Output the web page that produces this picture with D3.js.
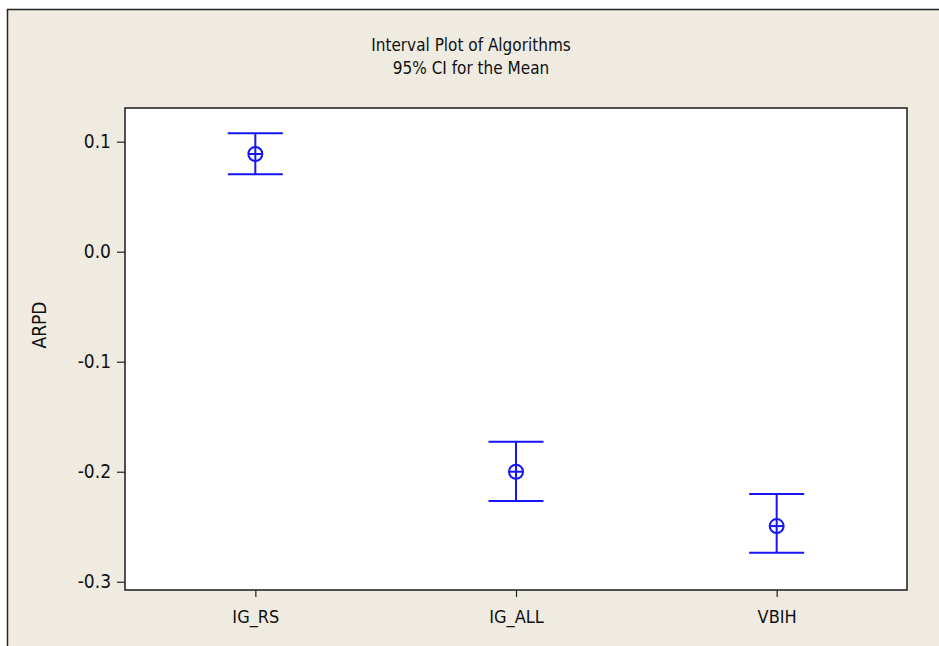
<!DOCTYPE html>
<html>
<head>
<meta charset="utf-8">
<script src="https://cdn.jsdelivr.net/npm/d3@7"></script>
<style>
  html, body { margin: 0; padding: 0; background: #fff; }
  svg { display: block; }
  text { font-family: "DejaVu Sans Condensed", "Liberation Sans", Arial, sans-serif; fill: #111; }
</style>
</head>
<body>
<svg id="chart" width="939" height="646"></svg>
<script>
// ---- data ----
const categories = ["IG_RS", "IG_ALL", "VBIH"];
const means = [0.0888, -0.2000, -0.2494];
const lowerCI = [0.0704, -0.2266, -0.2736];
const upperCI = [0.1076, -0.1727, -0.2203];
const yTicks = [0.1, 0.0, -0.1, -0.2, -0.3];
const titleLines = ["Interval Plot of Algorithms", "95% CI for the Mean"];
const yLabel = "ARPD";

const svg = d3.select("#chart");
const W = 939, H = 646;
const plot = { left: 125, right: 907, top: 108, bottom: 590 };
const blue = "#1515f5";
const FONT = "'DejaVu Sans Condensed', 'Liberation Sans', Arial, sans-serif";

// outer background + frame
svg.append("rect").attr("x", 0).attr("y", 0).attr("width", W).attr("height", H).attr("fill", "#ffffff");
svg.append("rect").attr("x", 7.5).attr("y", 9.5).attr("width", W + 20).attr("height", H + 20)
  .attr("fill", "#efebe1").attr("stroke", "#222").attr("stroke-width", 1.5);

// title
svg.selectAll("text.title").data(titleLines).enter().append("text")
  .attr("class", "title")
  .attr("x", 471)
  .attr("y", (d, i) => 51 + i * 23)
  .attr("text-anchor", "middle")
  .style("font-size", "17px")
  .text(d => d);

// plot area
svg.append("rect").attr("x", plot.left).attr("y", plot.top)
  .attr("width", plot.right - plot.left).attr("height", plot.bottom - plot.top)
  .attr("fill", "#ffffff").attr("stroke", "#1a1a1a").attr("stroke-width", 1.5);

const x = d3.scalePoint().domain(categories).range([plot.left, plot.right]).padding(0.5);
const y = d3.scaleLinear().domain([-0.3075, 0.1306]).range([plot.bottom, plot.top]);

// axes
const fmt = v => d3.format(".1f")(v).replace("\u2212", "-");
const yAxis = d3.axisLeft(y).tickValues(yTicks).tickFormat(fmt).tickSize(8).tickPadding(6);
const gy = svg.append("g").attr("transform", `translate(${plot.left},0)`).call(yAxis);
gy.select(".domain").remove();
gy.selectAll(".tick line").attr("stroke", "#222").attr("stroke-width", 1.2);
gy.selectAll(".tick text").style("font-size", "19px").attr("fill", "#111").style("font-family", FONT);

const xAxis = d3.axisBottom(x).tickSize(7).tickPadding(13);
const gx = svg.append("g").attr("transform", `translate(0,${plot.bottom})`).call(xAxis);
gx.select(".domain").remove();
gx.selectAll(".tick line").attr("stroke", "#222").attr("stroke-width", 1.2);
gx.selectAll(".tick text").style("font-size", "18px").attr("fill", "#111").style("font-family", FONT);

// y label
svg.append("text")
  .attr("transform", `translate(46,${(plot.top + plot.bottom) / 2 - 24}) rotate(-90)`)
  .attr("text-anchor", "middle")
  .style("font-size", "19px")
  .text(yLabel);

// interval marks
const data = categories.map((c, i) => ({ c, m: means[i], lo: lowerCI[i], hi: upperCI[i] }));
const capHalf = 27.5, r = 7;
const g = svg.append("g").attr("stroke", blue).attr("stroke-width", 2).attr("fill", "none");
data.forEach(d => {
  const cx = x(d.c);
  g.append("line").attr("x1", cx).attr("x2", cx).attr("y1", y(d.hi)).attr("y2", y(d.lo));
  g.append("line").attr("x1", cx - capHalf).attr("x2", cx + capHalf).attr("y1", y(d.hi)).attr("y2", y(d.hi));
  g.append("line").attr("x1", cx - capHalf).attr("x2", cx + capHalf).attr("y1", y(d.lo)).attr("y2", y(d.lo));
  g.append("circle").attr("cx", cx).attr("cy", y(d.m)).attr("r", r).attr("fill", "#fff");
  g.append("line").attr("x1", cx - r).attr("x2", cx + r).attr("y1", y(d.m)).attr("y2", y(d.m));
  g.append("line").attr("x1", cx).attr("x2", cx).attr("y1", y(d.m) - r).attr("y2", y(d.m) + r);
});
</script>
</body>
</html>
